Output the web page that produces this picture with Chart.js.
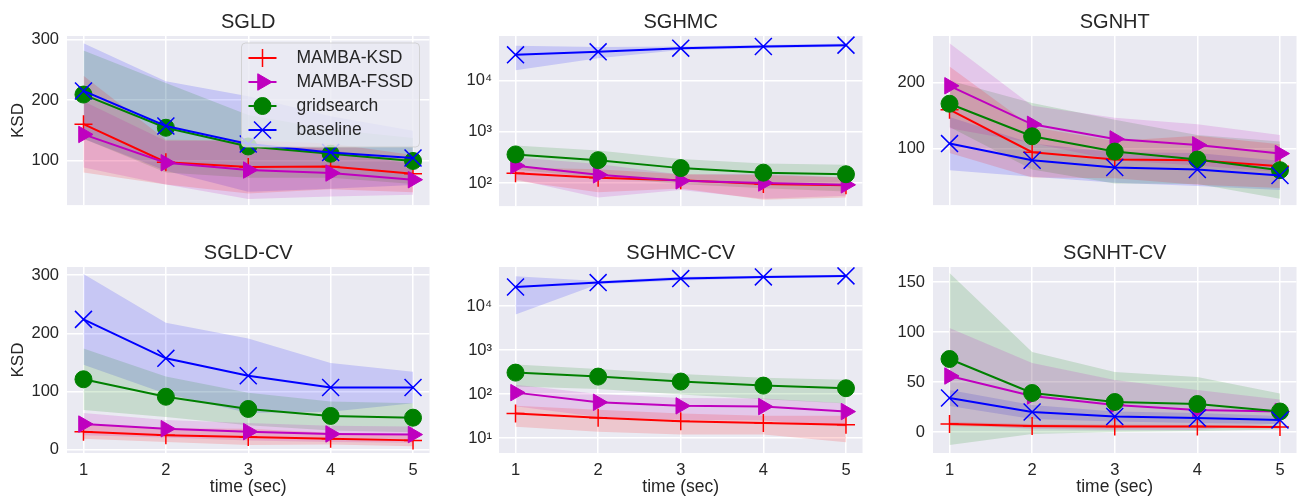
<!DOCTYPE html>
<html><head><meta charset="utf-8">
<script src="https://cdn.jsdelivr.net/npm/chart.js@4.4.0/dist/chart.umd.min.js"></script>
<style>
html,body{margin:0;padding:0;background:#fff;width:1311px;height:499px;overflow:hidden;}
canvas{position:absolute;}
</style></head><body>
<canvas id="c0"></canvas><canvas id="c1"></canvas><canvas id="c2"></canvas>
<canvas id="c3"></canvas><canvas id="c4"></canvas><canvas id="c5"></canvas>
<script>
// ---------- data ----------
const TIME = [1, 2, 3, 4, 5];
const SERIES = ['MAMBA-KSD', 'MAMBA-FSSD', 'gridsearch', 'baseline'];
const TITLES = ['SGLD', 'SGHMC', 'SGNHT', 'SGLD-CV', 'SGHMC-CV', 'SGNHT-CV'];
const X_LABEL = 'time (sec)';
const Y_LABEL = 'KSD';

// SGLD
const SGLD_KSD = [160, 97, 89, 90, 78];
const SGLD_KSD_STD = [80, 37, 44, 38, 31];
const SGLD_FSSD = [143, 96, 84, 79, 68];
const SGLD_FSSD_STD = [55, 36, 48, 39, 25];
const SGLD_GRID = [209, 154, 123, 111, 99];
const SGLD_GRID_STD = [73, 74, 52, 40, 38];
const SGLD_BASE = [215, 157, 127, 113, 104];
const SGLD_BASE_STD = [79, 74, 79, 60, 45];
// SGHMC
const SGHMC_KSD = [155, 126, 113, 95, 90];
const SGHMC_KSD_STD = [45, 60, 35, 48, 38];
const SGHMC_FSSD = [218, 144, 110, 100, 92];
const SGHMC_FSSD_STD = [100, 92, 37, 51, 36];
const SGHMC_GRID = [361, 279, 195, 159, 148];
const SGHMC_GRID_STD = [180, 150, 100, 80, 80];
const SGHMC_BASE = [31900, 36500, 43100, 46300, 49400];
const SGHMC_BASE_STD = [16000, 9000, 3500, 3500, 3500];
// SGNHT
const SGNHT_KSD = [159, 95, 84, 83, 74];
const SGNHT_KSD_STD = [65, 38, 28, 37, 33];
const SGNHT_FSSD = [195, 137, 115, 106, 93];
const SGNHT_FSSD_STD = [64, 28, 32, 31, 28];
const SGNHT_GRID = [168, 119, 96, 84, 68];
const SGNHT_GRID_STD = [35, 50, 48, 37, 43];
const SGNHT_BASE = [108, 83, 72, 69, 60];
const SGNHT_BASE_STD = [40, 25, 23, 25, 22];
// SGLD-CV
const SGLDCV_KSD = [31, 25, 22, 19, 16];
const SGLDCV_KSD_STD = [12, 12, 14, 10, 10];
const SGLDCV_FSSD = [44, 36, 31, 27, 26];
const SGLDCV_FSSD_STD = [19, 15, 15, 14, 14];
const SGLDCV_GRID = [121, 91, 70, 58, 55];
const SGLDCV_GRID_STD = [53, 35, 28, 25, 25];
const SGLDCV_BASE = [224, 157, 127, 107, 107];
const SGLDCV_BASE_STD = [78, 61, 64, 42, 27];
// SGHMC-CV
const SGHMCCV_KSD = [36, 29, 24, 22, 20];
const SGHMCCV_KSD_STD = [18, 15, 12, 10, 12];
const SGHMCCV_FSSD = [108, 65, 54, 52, 40];
const SGHMCCV_FSSD_STD = [55, 35, 28, 27, 22];
const SGHMCCV_GRID = [308, 250, 193, 156, 136];
const SGHMCCV_GRID_STD = [160, 120, 95, 80, 75];
const SGHMCCV_BASE = [27300, 34400, 42400, 46300, 48800];
const SGHMCCV_BASE_STD = [20800, 3000, 4000, 3000, 3000];
// SGNHT-CV
const SGNHTCV_KSD = [8, 6, 5.5, 5.5, 5];
const SGNHTCV_KSD_STD = [2, 2, 2, 1.5, 1.5];
const SGNHTCV_FSSD = [56, 36, 27, 22, 20.5];
const SGNHTCV_FSSD_STD = [48, 33, 25, 20, 12];
const SGNHTCV_GRID = [73, 39, 30, 28, 20.5];
const SGNHTCV_GRID_STD = [86, 41, 30, 27, 18];
const SGNHTCV_BASE = [34, 20, 15.5, 14, 12];
const SGNHTCV_BASE_STD = [8, 7, 5, 5, 4];

// y ranges / ticks
const Y_RANGES = [[25.9, 306], [35.3, 74500], [15.4, 270], [-5.7, 314], [4.57, 77800], [-21, 165]];
const Y_STEPS = [100, null, 100, 100, null, 50];

// ---------- style / layout ----------
const FONT = '"Liberation Sans", Arial, Helvetica, sans-serif';
Chart.defaults.font.family = FONT;
const TXT = '#262626';
const STYLE = [
  {color: '#FF0000', band: 'rgba(255,0,0,0.15)', ps: 'cross', r: 9, rot: 0, bw: 1.5},
  {color: '#BF00BF', band: 'rgba(191,0,191,0.15)', ps: 'triangle', r: 9.5, rot: 90, bw: 1},
  {color: '#008000', band: 'rgba(0,128,0,0.15)', ps: 'circle', r: 8.5, rot: 0, bw: 1},
  {color: '#0000FF', band: 'rgba(0,0,255,0.15)', ps: 'crossRot', r: 12, rot: 0, bw: 1.5}
];
const COLS = [{cl: 0, pl: 67, pr: 443}, {cl: 447, pl: 499, pr: 876}, {cl: 880, pl: 933, pr: 1310}];
const ROWS = [{ct: 0, ch: 223, xh: 0}, {ct: 231, ch: 268, xh: 46}];

const bgPlugin = {
  id: 'plotBg',
  beforeDraw(chart) {
    const {ctx, chartArea: a} = chart;
    ctx.save();
    ctx.fillStyle = '#EAEAF2';
    ctx.fillRect(a.left, a.top, a.right - a.left, a.bottom - a.top);
    ctx.restore();
  }
};

function marker(ctx, st, x, y) {
  ctx.save();
  ctx.fillStyle = st.color; ctx.strokeStyle = st.color; ctx.lineWidth = st.bw;
  ctx.beginPath();
  if (st.ps === 'circle') {
    ctx.arc(x, y, st.r, 0, Math.PI * 2); ctx.fill(); ctx.stroke();
  } else if (st.ps === 'triangle') {
    for (let k = 0; k < 3; k++) {
      const a = (st.rot - 90 + k * 120) * Math.PI / 180;
      const px = x + Math.cos(a) * st.r, py = y + Math.sin(a) * st.r;
      k ? ctx.lineTo(px, py) : ctx.moveTo(px, py);
    }
    ctx.closePath(); ctx.fill(); ctx.stroke();
  } else if (st.ps === 'cross') {
    ctx.moveTo(x - st.r, y); ctx.lineTo(x + st.r, y);
    ctx.moveTo(x, y - st.r); ctx.lineTo(x, y + st.r); ctx.stroke();
  } else {
    const d = st.r * Math.SQRT1_2;
    ctx.moveTo(x - d, y - d); ctx.lineTo(x + d, y + d);
    ctx.moveTo(x + d, y - d); ctx.lineTo(x - d, y + d); ctx.stroke();
  }
  ctx.restore();
}

const legendPlugin = {
  id: 'boxLegend',
  afterDatasetsDraw(chart, args, o) {
    if (!o || !o.show) return;
    const ctx = chart.ctx, a = chart.chartArea;
    const x = a.right - o.right - o.w, y = a.top + o.top;
    ctx.save();
    ctx.beginPath();
    ctx.roundRect(x, y, o.w, o.h, 4);
    ctx.fillStyle = 'rgba(234,234,242,0.8)';
    ctx.fill();
    ctx.strokeStyle = 'rgba(204,204,204,0.8)';
    ctx.lineWidth = 1;
    ctx.stroke();
    SERIES.forEach((name, i) => {
      const st = STYLE[i];
      const ry = y + o.first + i * o.gap;
      ctx.strokeStyle = st.color; ctx.lineWidth = 2;
      ctx.beginPath(); ctx.moveTo(x + 7, ry); ctx.lineTo(x + 35, ry); ctx.stroke();
      marker(ctx, st, x + 21, ry);
      ctx.fillStyle = TXT;
      ctx.font = '17.5px ' + FONT;
      ctx.textBaseline = 'middle';
      ctx.textAlign = 'left';
      ctx.fillText(name, x + 55, ry);
    });
    ctx.restore();
  }
};

const SUP = {'0': '\u2070', '1': '\u00B9', '2': '\u00B2', '3': '\u00B3', '4': '\u2074', '5': '\u2075', '6': '\u2076', '7': '\u2077', '8': '\u2078', '9': '\u2079', '-': '\u207B'};

const PANEL_DATA = [
  [[SGLD_KSD, SGLD_KSD_STD], [SGLD_FSSD, SGLD_FSSD_STD], [SGLD_GRID, SGLD_GRID_STD], [SGLD_BASE, SGLD_BASE_STD]],
  [[SGHMC_KSD, SGHMC_KSD_STD], [SGHMC_FSSD, SGHMC_FSSD_STD], [SGHMC_GRID, SGHMC_GRID_STD], [SGHMC_BASE, SGHMC_BASE_STD]],
  [[SGNHT_KSD, SGNHT_KSD_STD], [SGNHT_FSSD, SGNHT_FSSD_STD], [SGNHT_GRID, SGNHT_GRID_STD], [SGNHT_BASE, SGNHT_BASE_STD]],
  [[SGLDCV_KSD, SGLDCV_KSD_STD], [SGLDCV_FSSD, SGLDCV_FSSD_STD], [SGLDCV_GRID, SGLDCV_GRID_STD], [SGLDCV_BASE, SGLDCV_BASE_STD]],
  [[SGHMCCV_KSD, SGHMCCV_KSD_STD], [SGHMCCV_FSSD, SGHMCCV_FSSD_STD], [SGHMCCV_GRID, SGHMCCV_GRID_STD], [SGHMCCV_BASE, SGHMCCV_BASE_STD]],
  [[SGNHTCV_KSD, SGNHTCV_KSD_STD], [SGNHTCV_FSSD, SGNHTCV_FSSD_STD], [SGNHTCV_GRID, SGNHTCV_GRID_STD], [SGNHTCV_BASE, SGNHTCV_BASE_STD]]
];
const LOG = [false, true, false, false, true, false];

function build(p) {
  const col = COLS[p % 3], row = ROWS[Math.floor(p / 3)];
  const bottom = p >= 3, left = p % 3 === 0;
  const cv = document.getElementById('c' + p);
  cv.width = col.pr - col.cl; cv.height = row.ch;
  cv.style.left = col.cl + 'px'; cv.style.top = row.ct + 'px';
  cv.style.width = cv.width + 'px'; cv.style.height = cv.height + 'px';

  const bands = [], lines = [];
  PANEL_DATA[p].forEach(([mean, sd], s) => {
    const st = STYLE[s];
    bands.push({
      data: TIME.map((t, i) => ({x: t, y: mean[i] + sd[i]})),
      fill: '+1', backgroundColor: st.band, borderWidth: 0, borderColor: 'rgba(0,0,0,0)',
      pointRadius: 0, order: 10
    });
    bands.push({
      data: TIME.map((t, i) => ({x: t, y: mean[i] - sd[i]})),
      fill: false, borderWidth: 0, borderColor: 'rgba(0,0,0,0)', pointRadius: 0, order: 10
    });
    lines.push({
      label: SERIES[s],
      data: TIME.map((t, i) => ({x: t, y: mean[i]})),
      fill: false, borderColor: st.color, backgroundColor: st.color, borderWidth: 2,
      pointStyle: st.ps, pointRadius: st.r, pointRotation: st.rot, pointBorderWidth: st.bw,
      pointBackgroundColor: st.color, pointBorderColor: st.color, order: 4 - s, tension: 0
    });
  });

  const [ymin, ymax] = Y_RANGES[p];
  const yScale = LOG[p] ? {
    type: 'logarithmic', min: ymin, max: ymax,
    afterBuildTicks: sc => { sc.ticks = sc.ticks.filter(t => { const l = Math.log10(t.value); return Math.abs(l - Math.round(l)) < 1e-6; }); },
    ticks: {autoSkip: false, padding: 7, color: TXT, font: {size: 16.5},
      callback: v => '10' + String(Math.round(Math.log10(v))).split('').map(c => SUP[c]).join('')}
  } : {
    type: 'linear', min: ymin, max: ymax,
    ticks: {stepSize: Y_STEPS[p], includeBounds: false, autoSkip: false, padding: 8, color: TXT, font: {size: 16.5}}
  };
  Object.assign(yScale, {
    grid: {color: '#FFFFFF', lineWidth: 1.5, drawTicks: false},
    border: {display: false},
    title: {display: left, text: Y_LABEL, color: TXT, font: {size: 17}, padding: {top: 8, bottom: 0}},
    afterFit: sc => { sc.width = col.pl - col.cl; }
  });

  new Chart(cv, {
    type: 'line',
    data: {datasets: bands.concat(lines)},
    options: {
      responsive: false, animation: false, events: [],
      layout: {padding: 0},
      plugins: {
        legend: {display: false}, tooltip: {enabled: false},
        title: {display: true, text: TITLES[p], fullSize: false, color: TXT,
          font: {size: 20, weight: 'normal', lineHeight: 1.2}, padding: {top: 10.5, bottom: 1.5}},
        boxLegend: {show: p === 0, w: 178, h: 104, right: 10, top: 7, first: 15, gap: 24}
      },
      scales: {
        x: {
          type: 'linear', min: 0.8, max: 5.2,
          ticks: {display: bottom, stepSize: 1, includeBounds: false, autoSkip: false, padding: 8, color: TXT, font: {size: 16.5}},
          grid: {color: '#FFFFFF', lineWidth: 1.5, drawTicks: false},
          border: {display: false},
          title: {display: bottom, text: X_LABEL, color: TXT, font: {size: 17.5}, padding: {top: 0, bottom: 1}},
          afterFit: sc => { sc.height = row.xh; }
        },
        y: yScale
      }
    },
    plugins: [bgPlugin, legendPlugin]
  });
}
for (let p = 0; p < 6; p++) build(p);
</script>
</body></html>
